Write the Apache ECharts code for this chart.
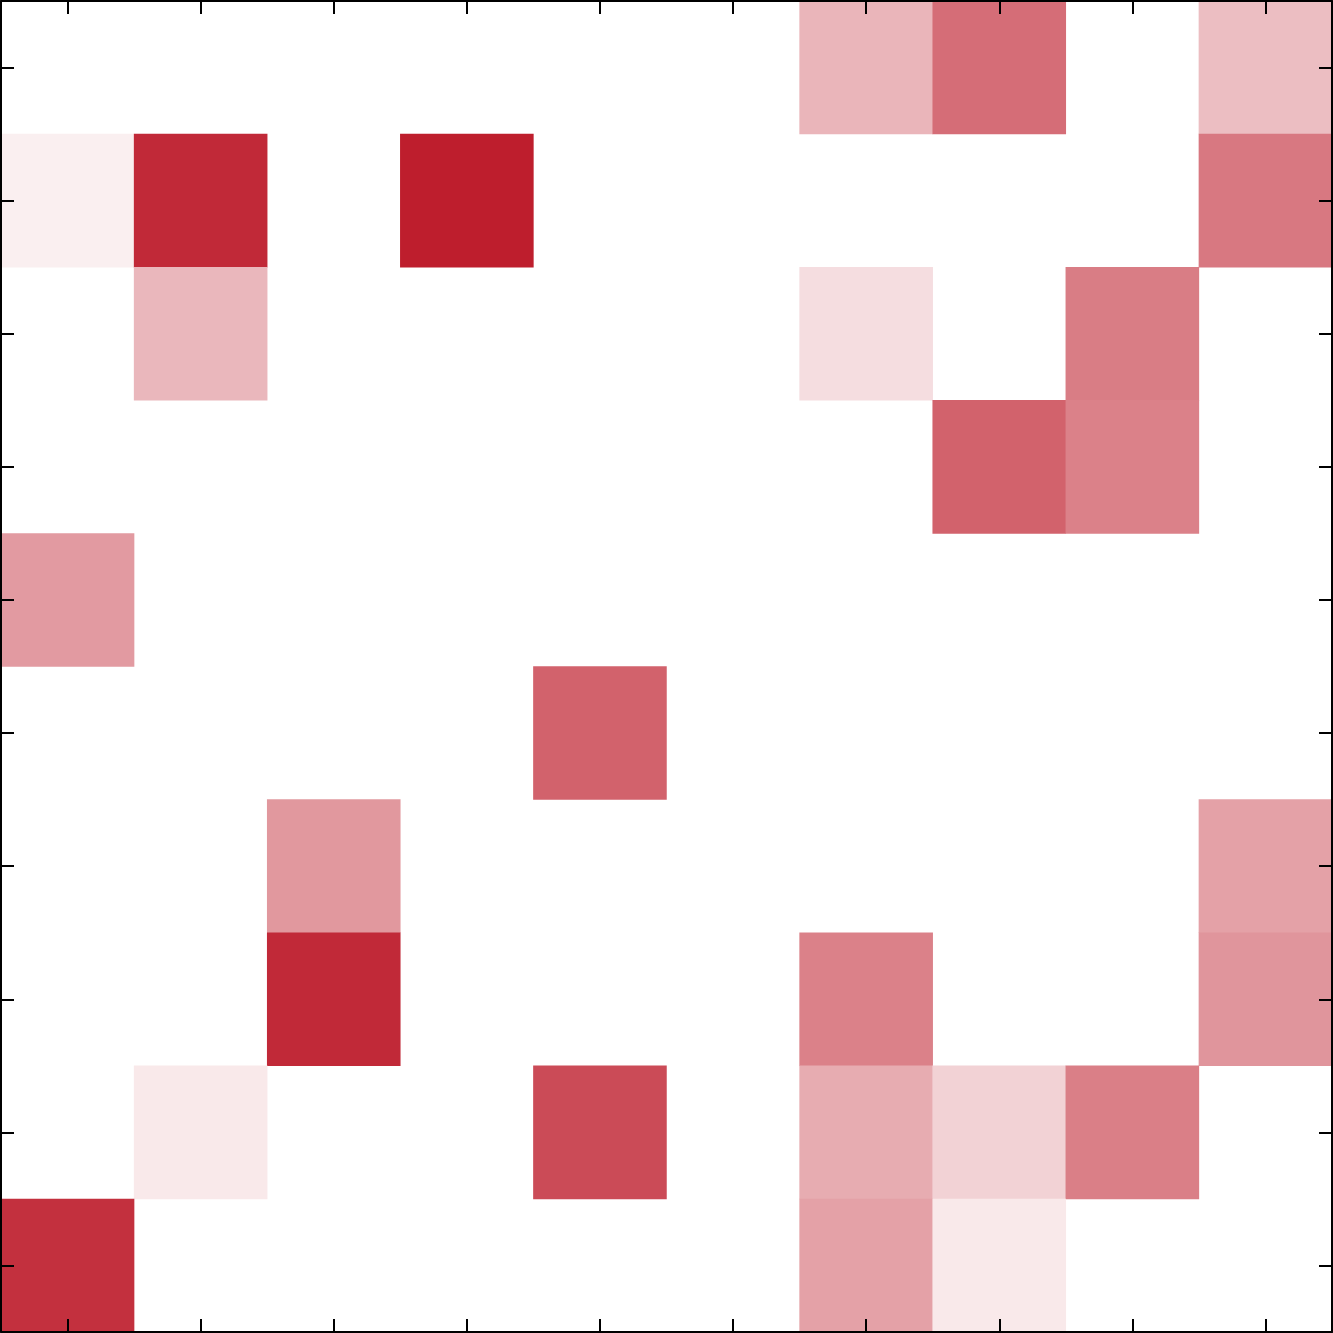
<!DOCTYPE html>
<html>
<head>
<meta charset="utf-8">
<script src="https://cdn.jsdelivr.net/npm/echarts@6/dist/echarts.min.js"></script>
<style>html,body{margin:0;padding:0;background:#fff}#c{width:1333px;height:1333px}</style>
</head>
<body>
<div id="c"></div>
<script>
const xCategories = ['0','1','2','3','4','5','6','7','8','9'];
const yCategories = ['0','1','2','3','4','5','6','7','8','9'];
// rows top to bottom, columns left to right (intensity 0..1)
const row0 = [0, 0, 0, 0, 0, 0, 0.33, 0.65, 0, 0.29];
const row1 = [0.07, 0.95, 0, 1.0, 0, 0, 0, 0, 0, 0.6];
const row2 = [0, 0.32, 0, 0, 0, 0, 0.15, 0, 0.58, 0];
const row3 = [0, 0, 0, 0, 0, 0, 0, 0.7, 0.56, 0];
const row4 = [0.45, 0, 0, 0, 0, 0, 0, 0, 0, 0];
const row5 = [0, 0, 0, 0, 0.7, 0, 0, 0, 0, 0];
const row6 = [0, 0, 0.46, 0, 0, 0, 0, 0, 0, 0.42];
const row7 = [0, 0, 0.95, 0, 0, 0, 0.56, 0, 0, 0.47];
const row8 = [0, 0.1, 0, 0, 0.8, 0, 0.37, 0.2, 0.57, 0];
const row9 = [0.92, 0, 0, 0, 0, 0, 0.42, 0.1, 0, 0];
const rows = [row0,row1,row2,row3,row4,row5,row6,row7,row8,row9];

const data = [];
rows.forEach((r, yi) => r.forEach((v, xi) => { if (v > 0) data.push([xi, yi, v]); }));

const tickStyle = {show:true, inside:true, length:13, alignWithLabel:true, lineStyle:{color:'#000', width:2}};
const lineStyle = {show:true, lineStyle:{color:'#000', width:2}};
const common = {axisLine:lineStyle, axisTick:tickStyle, axisLabel:{show:false}, splitLine:{show:false}, z:10};
const chart = echarts.init(document.getElementById('c'), null, {renderer:'canvas'});
chart.setOption({
  animation:false,
  backgroundColor:'#ffffff',
  grid:{left:1,right:1,top:1,bottom:1,containLabel:false},
  xAxis:[
    Object.assign({type:'category', data:xCategories, position:'bottom'}, common),
    Object.assign({type:'category', data:xCategories, position:'top'}, common)
  ],
  yAxis:[
    Object.assign({type:'category', data:yCategories, inverse:true, position:'left'}, common),
    Object.assign({type:'category', data:yCategories, inverse:true, position:'right'}, common)
  ],
  visualMap:{show:false, min:0, max:1, dimension:2, seriesIndex:0, inRange:{color:['#ffffff','#BE1E2D']}},
  series:[{type:'heatmap', data:data, xAxisIndex:0, yAxisIndex:0, itemStyle:{borderWidth:0}, emphasis:{disabled:true}, z:1}]
});
</script>
</body>
</html>
